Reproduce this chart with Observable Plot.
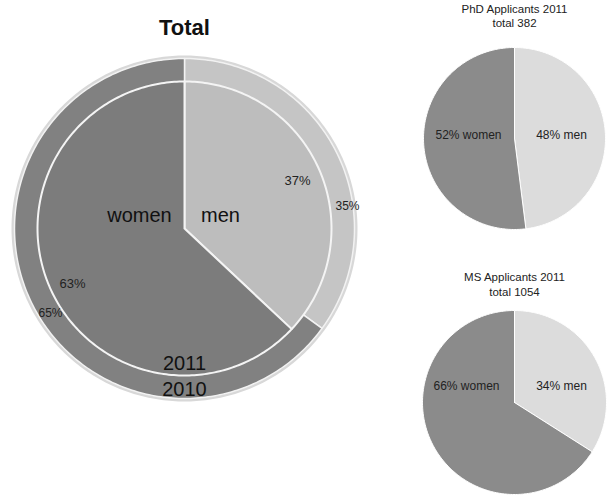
<!DOCTYPE html>
<html>
<head>
<meta charset="utf-8">
<script src="https://cdn.jsdelivr.net/npm/d3@7"></script>
<script src="https://cdn.jsdelivr.net/npm/@observablehq/plot@0.6"></script>
<style>
  html, body { margin: 0; padding: 0; background: #fff; }
  #chart svg { display: block; }
</style>
</head>
<body>
<div id="chart"></div>
<script>
// ---- data ----
const groups = ["men", "women"];
const total2011 = [37, 63];
const total2010 = [35, 65];
const phd2011 = [48, 52];
const ms2011 = [34, 66];
const phdTotal = 382;
const msTotal = 1054;
const years = ["2011", "2010"];

// ---- layout / style ----
const W = 610, H = 495;
const main = {cx: 184, cy: 228, rOuter: 170, rInner: 147};
const phd = {cx: 514, cy: 138, r: 91};
const ms = {cx: 514, cy: 402, r: 92};
const mainInnerColors = {men: "#bdbdbd", women: "#7c7c7c"};
const mainOuterColors = {men: "#c5c5c5", women: "#818181"};
const smallColors = {men: "#dcdcdc", women: "#8b8b8b"};

function slicePolys(values, names, cx, cy, r, colors, key) {
  const total = d3.sum(values);
  const pts = [];
  let start = 0;
  values.forEach((v, i) => {
    const a0 = start / total * 2 * Math.PI;
    const a1 = (start + v) / total * 2 * Math.PI;
    start += v;
    const id = key + "-" + names[i];
    const fill = colors[names[i]];
    pts.push({id, fill, x: cx, y: cy});
    const n = Math.max(2, Math.ceil((a1 - a0) / (Math.PI / 180)));
    for (let k = 0; k <= n; k++) {
      const a = a0 + (a1 - a0) * k / n;
      pts.push({id, fill, x: cx + r * Math.sin(a), y: cy - r * Math.cos(a)});
    }
    pts.push({id, fill, x: cx, y: cy});
  });
  return pts;
}

function circlePts(cx, cy, r, id) {
  const pts = [];
  for (let k = 0; k <= 360; k++) {
    const a = k * Math.PI / 180;
    pts.push({id, x: cx + r * Math.sin(a), y: cy - r * Math.cos(a)});
  }
  return pts;
}

const outerPolys = slicePolys(total2010, groups, main.cx, main.cy, main.rOuter, mainOuterColors, "o2010");
const innerPolys = slicePolys(total2011, groups, main.cx, main.cy, main.rInner, mainInnerColors, "i2011");
const phdPolys = slicePolys(phd2011, groups, phd.cx, phd.cy, phd.r, smallColors, "phd");
const msPolys = slicePolys(ms2011, groups, ms.cx, ms.cy, ms.r, smallColors, "ms");

// text labels
const mainNameLabels = [
  {text: groups[1], x: 139, y: 215},
  {text: groups[0], x: 220, y: 215}
];

const innerPct = [
  {text: total2011[0] + "%", x: 297, y: 180},
  {text: total2011[1] + "%", x: 72, y: 283}
];
const outerPct = [
  {text: total2010[0] + "%", x: 347, y: 206},
  {text: total2010[1] + "%", x: 50, y: 313}
];

const yearLabels = [
  {text: years[0], x: 184, y: 363},
  {text: years[1], x: 184, y: 389}
];

const smallTitles = [
  {text: "PhD Applicants 2011", x: 514, y: 9},
  {text: "total " + phdTotal, x: 514, y: 23},
  {text: "MS Applicants 2011", x: 514, y: 277},
  {text: "total " + msTotal, x: 514, y: 292}
];

const smallLabels = [
  {text: phd2011[1] + "% women", x: 468, y: 135},
  {text: phd2011[0] + "% men", x: 561, y: 135},
  {text: ms2011[1] + "% women", x: 466, y: 386},
  {text: ms2011[0] + "% men", x: 561, y: 386}
];

const font = "Liberation Sans, Arial, Helvetica, sans-serif";

const chart = Plot.plot({
  width: W,
  height: H,
  margin: 0,
  x: {domain: [0, W], range: [0, W], axis: null},
  y: {domain: [0, H], range: [0, H], axis: null},
  color: {type: "identity"},
  style: {background: "#fff", fontFamily: font},
  marks: [
    // soft halo around the big pie
    Plot.line(circlePts(main.cx, main.cy, main.rOuter + 1.5, "halo"), {x: "x", y: "y", stroke: "#d8d8d8", strokeWidth: 3, curve: "linear"}),
    Plot.line(outerPolys, {x: "x", y: "y", z: "id", fill: "fill", stroke: "#f2f2f2", strokeWidth: 1.5, curve: "linear"}),
    Plot.line(innerPolys, {x: "x", y: "y", z: "id", fill: "fill", stroke: "#f4f4f4", strokeWidth: 2, curve: "linear"}),
    Plot.line(phdPolys, {x: "x", y: "y", z: "id", fill: "fill", stroke: "#ffffff", strokeWidth: 1, curve: "linear"}),
    Plot.line(msPolys, {x: "x", y: "y", z: "id", fill: "fill", stroke: "#ffffff", strokeWidth: 1, curve: "linear"}),
    Plot.text(["Total"], {x: () => 184, y: () => 27, text: d => d, fontSize: 22, fontWeight: "bold", fill: "#111"}),
    Plot.text(mainNameLabels, {x: "x", y: "y", text: "text", fontSize: 20, fill: "#111"}),
    Plot.text(innerPct, {x: "x", y: "y", text: "text", fontSize: 13, fill: "#222"}),
    Plot.text(outerPct, {x: "x", y: "y", text: "text", fontSize: 12, fill: "#222"}),
    Plot.text(yearLabels, {x: "x", y: "y", text: "text", fontSize: 20, fill: "#111"}),
    Plot.text(smallTitles, {x: "x", y: "y", text: "text", fontSize: 11.5, fill: "#222"}),
    Plot.text(smallLabels, {x: "x", y: "y", text: "text", fontSize: 12, fill: "#222"})
  ]
});

document.getElementById("chart").appendChild(chart);
</script>
</body>
</html>
